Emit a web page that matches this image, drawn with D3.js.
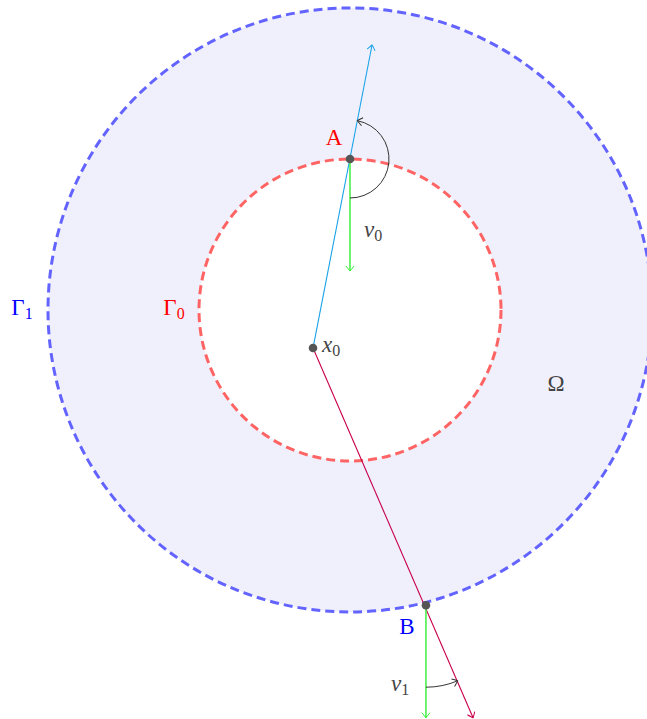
<!DOCTYPE html>
<html>
<head>
<meta charset="utf-8">
<script src="https://cdn.jsdelivr.net/npm/d3@7"></script>
<style>
  body { margin: 0; background: #fff; }
  svg { display: block; }
  text { font-family: "Liberation Serif", "DejaVu Serif", serif; }
</style>
</head>
<body>
<div class="vis"></div>
<script>
// geometry in diagram units (circle centre at origin)
const radii = [1, 2];                 // Gamma_0, Gamma_1
const x0 = [-0.245, -0.252];
const pointA = [0, 1.0];
const pointB = [0.503, -1.955];
const rayBlueEnd = [0.146, 1.755];
const rayRedEnd = [0.815, -2.70];
const v0End = [0, 0.258];
const v1End = [0.503, -2.70];

const width = 647, height = 719;
const unit = 151;
const x = d3.scaleLinear().domain([0, 1]).range([350, 350 + unit]);
const y = d3.scaleLinear().domain([0, 1]).range([310, 310 - unit]);

const svg = d3.select(".vis").append("svg")
  .attr("width", width).attr("height", height);

const defs = svg.append("defs");
function marker(id, color) {
  defs.append("marker")
    .attr("id", id).attr("viewBox", "-6 -5 8 10")
    .attr("refX", 0).attr("refY", 0)
    .attr("markerWidth", 8).attr("markerHeight", 10)
    .attr("markerUnits", "userSpaceOnUse")
    .attr("orient", "auto")
    .append("path")
    .attr("d", "M-5,-4 Q-1,-1 0,0 Q-1,1 -5,4")
    .attr("fill", "none").attr("stroke", color).attr("stroke-width", 1);
}
marker("m-blue", "#1aa3e8");
marker("m-red", "#c8004a");
marker("m-green", "#33ee33");
marker("m-gray", "#333");

// outer region Omega
svg.append("circle")
  .attr("cx", x(0)).attr("cy", y(0))
  .attr("r", x(radii[1]) - x(0))
  .attr("fill", "#f0f0fc")
  .attr("stroke", "#6363ff").attr("stroke-width", 3)
  .attr("stroke-dasharray", "9,5");

svg.append("circle")
  .attr("cx", x(0)).attr("cy", y(0))
  .attr("r", x(radii[0]) - x(0))
  .attr("fill", "#fff")
  .attr("stroke", "#ff6464").attr("stroke-width", 3)
  .attr("stroke-dasharray", "9,5");

// rays from x0
function seg(p, q, color, mk, w) {
  svg.append("line")
    .attr("x1", x(p[0])).attr("y1", y(p[1]))
    .attr("x2", x(q[0])).attr("y2", y(q[1]))
    .attr("stroke", color).attr("stroke-width", w || 1.1)
    .attr("marker-end", "url(#" + mk + ")");
}
seg(x0, rayBlueEnd, "#1aa3e8", "m-blue");
seg(x0, rayRedEnd, "#c8004a", "m-red");
seg(pointA, v0End, "#33ee33", "m-green", 1.4);
seg(pointB, v1End, "#33ee33", "m-green", 1.4);

// angle arcs
function angleArc(c, r, a0, a1, sweep) {
  const cx = x(c[0]), cy = y(c[1]);
  const p0 = [cx + r * Math.cos(a0), cy + r * Math.sin(a0)];
  const p1 = [cx + r * Math.cos(a1), cy + r * Math.sin(a1)];
  svg.append("path")
    .attr("d", `M${p0[0]},${p0[1]} A${r},${r} 0 0 ${sweep} ${p1[0]},${p1[1]}`)
    .attr("fill", "none").attr("stroke", "#333").attr("stroke-width", 1)
    .attr("marker-end", "url(#m-gray)");
}
const dirBlue = Math.atan2(y(rayBlueEnd[1]) - y(pointA[1]), x(rayBlueEnd[0]) - x(pointA[0]));
const dirRed = Math.atan2(y(rayRedEnd[1]) - y(pointB[1]), x(rayRedEnd[0]) - x(pointB[0]));
angleArc(pointA, 39, Math.PI / 2, dirBlue, 0);
angleArc(pointB, 82, Math.PI / 2, dirRed, 0);

// points
svg.selectAll("circle.pt")
  .data([x0, pointA, pointB])
  .enter().append("circle")
  .attr("class", "pt")
  .attr("cx", d => x(d[0])).attr("cy", d => y(d[1]))
  .attr("r", 4.3).attr("fill", "#555");

// labels
function label(px, py, txt, color, opts) {
  const t = svg.append("text")
    .attr("x", px).attr("y", py)
    .attr("fill", color).attr("font-size", 23)
    .attr("text-anchor", (opts && opts.anchor) || "middle")
    .attr("dominant-baseline", "middle");
  if (opts && opts.italic) {
    t.append("tspan").attr("font-style", "italic").text(txt);
    t.append("tspan").attr("font-size", 16).attr("dy", 5).text(opts.sub);
  } else if (opts && opts.sub) {
    t.append("tspan").text(txt);
    t.append("tspan").attr("font-size", 16).attr("dy", 5).text(opts.sub);
  } else {
    t.text(txt);
  }
}
label(334, 140, "A", "#ff0000");
label(407, 629, "B", "#0000ff");
label(22, 310, "Γ", "#0000ff", {sub: "1"});
label(174, 310, "Γ", "#ff0000", {sub: "0"});
label(556, 386, "Ω", "#444");
label(322, 347, "x", "#444", {italic: true, sub: "0", anchor: "start"});
label(364, 232, "v", "#444", {italic: true, sub: "0", anchor: "start"});
label(391, 686, "v", "#444", {italic: true, sub: "1", anchor: "start"});
</script>
</body>
</html>
